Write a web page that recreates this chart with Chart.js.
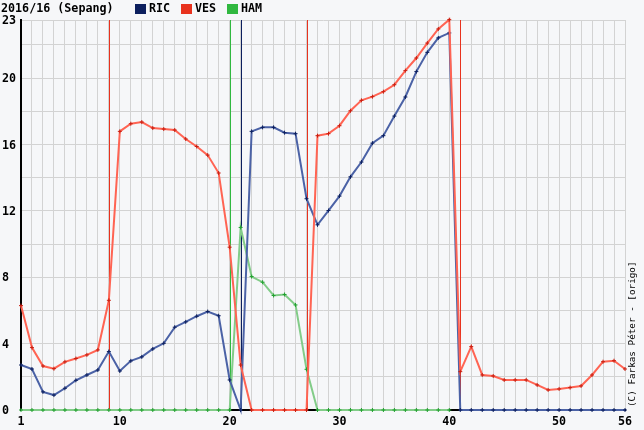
<!DOCTYPE html>
<html>
<head>
<meta charset="utf-8">
<script src="https://cdn.jsdelivr.net/npm/chart.js@4/dist/chart.umd.min.js"></script>
<style>
  html, body { margin: 0; padding: 0; background: #f6f7f9; }
  #wrap { width: 644px; height: 430px; }
</style>
</head>
<body>
<div id="wrap"><canvas id="gapChart" width="644" height="430"></canvas></div>
<script>
// ── DATA ─────────────────────────────────────────────
// gap to the leader (seconds), lap by lap
const laps = [1, 2, 3, 4, 5, 6, 7, 8, 9, 10, 11, 12, 13, 14, 15, 16, 17, 18, 19, 20,
              21, 22, 23, 24, 25, 26, 27, 28, 29, 30, 31, 32, 33, 34, 35, 36, 37, 38, 39, 40,
              41, 42, 43, 44, 45, 46, 47, 48, 49, 50, 51, 52, 53, 54, 55, 56];

const ricGap = [2.71, 2.47, 1.09, 0.90, 1.31, 1.79, 2.11, 2.41, 3.52, 2.35,
                2.96, 3.20, 3.68, 4.02, 4.99, 5.31, 5.65, 5.93, 5.68, 1.81,
                0, 16.79, 17.03, 17.03, 16.71, 16.65, 12.73, 11.16, 12.02, 12.89,
                14.05, 14.94, 16.08, 16.53, 17.71, 18.86, 20.39, 21.55, 22.42, 22.72,
                0, 0, 0, 0, 0, 0, 0, 0, 0, 0, 0, 0, 0, 0, 0, 0];

const vesGap = [6.29, 3.76, 2.65, 2.49, 2.90, 3.10, 3.32, 3.62, 6.61, 16.79,
                17.25, 17.35, 16.99, 16.93, 16.87, 16.33, 15.88, 15.36, 14.28, 9.81,
                2.71, 0, 0, 0, 0, 0, 0, 16.53, 16.65, 17.13,
                18.03, 18.66, 18.88, 19.18, 19.60, 20.45, 21.21, 22.11, 22.96, 23.52,
                2.31, 3.82, 2.11, 2.05, 1.81, 1.81, 1.81, 1.51, 1.21, 1.27,
                1.35, 1.45, 2.11, 2.91, 2.97, 2.47];

const hamGap = [0, 0, 0, 0, 0, 0, 0, 0, 0, 0, 0, 0, 0, 0, 0, 0, 0, 0, 0, 0,
                11.00, 8.04, 7.70, 6.90, 6.96, 6.33, 2.45, 0, 0, 0,
                0, 0, 0, 0, 0, 0, 0, 0, 0, 0,
                null, null, null, null, null, null, null, null, null, null,
                null, null, null, null, null, null];

// pit stop laps (vertical lines)
const ricPits = [21];
const vesPits = [9, 27, 41];
const hamPits = [20];

// axis ticks
const xLabels = [1, 10, 20, 30, 40, 50, 56];
const yLabels = [0, 4, 8, 12, 16, 20];
const yGrid   = [0, 2, 4, 6, 8, 10, 12, 14, 16, 18, 20, 22];
const yMax    = 23.5;
const yTopLabel = '23';

const chartTitle = '2016/16 (Sepang)';
const credit = '(C) Farkas Péter - [origo]';

// driver colours: key (legend / pit line), line, marker
const drivers = [
  { name: 'RIC', values: ricGap, pits: ricPits, key: '#0c1f5e', line: '#4b62a6', mark: '#0c1f5e', order: 1 },
  { name: 'VES', values: vesGap, pits: vesPits, key: '#e8321e', line: '#ff6453', mark: '#c81e10', order: 0 },
  { name: 'HAM', values: hamGap, pits: hamPits, key: '#30b840', line: '#82cc88', mark: '#22a030', order: 2 }
];


// ── HELPERS ──────────────────────────────────────────
function toPoints(values) {
  return laps.map((lap, i) => ({ x: lap, y: values[i] }));
}

const boldFont = 'bold 11.7px "DejaVu Sans Mono"';


// ── PLUGIN: pit lines, labels, legend ────────────────
const decorations = {
  id: 'decorations',

  beforeDatasetsDraw(chart) {
    const ctx = chart.ctx;
    const area = chart.chartArea;
    const xs = chart.scales.x;
    ctx.save();
    drivers.forEach(d => {
      ctx.fillStyle = d.key;
      d.pits.forEach(lap => {
        const px = Math.round(xs.getPixelForValue(lap));
        ctx.fillRect(px, area.top, 1, area.bottom - area.top);
      });
    });
    ctx.restore();
  },

  afterDraw(chart) {
    const ctx = chart.ctx;
    const area = chart.chartArea;
    const xs = chart.scales.x;
    const ys = chart.scales.y;
    ctx.save();
    ctx.fillStyle = '#000';
    ctx.font = boldFont;

    // y labels (left aligned at the canvas edge)
    ctx.textAlign = 'left';
    ctx.textBaseline = 'middle';
    yLabels.forEach(v => ctx.fillText(String(v), 2, ys.getPixelForValue(v) + 1));
    ctx.fillText(yTopLabel, 2, area.top + 1);

    // x labels
    ctx.textAlign = 'center';
    xLabels.forEach(v => ctx.fillText(String(v), xs.getPixelForValue(v), area.bottom + 12));

    // title + legend
    ctx.textAlign = 'left';
    ctx.fillText(chartTitle, 1, 9);
    let lx = 135;
    drivers.forEach(d => {
      ctx.fillStyle = d.key;
      ctx.fillRect(lx, 4, 11, 10);
      ctx.fillStyle = '#000';
      ctx.fillText(d.name, lx + 14, 9);
      lx += 46;
    });

    // credit, rotated on the right
    ctx.font = '9.3px "DejaVu Sans Mono"';
    ctx.translate(633, 407);
    ctx.rotate(-Math.PI / 2);
    ctx.textAlign = 'left';
    ctx.fillText(credit, 0, 0);
    ctx.restore();
  }
};


// ── CHART ────────────────────────────────────────────
const ctx = document.getElementById('gapChart').getContext('2d');

new Chart(ctx, {
  type: 'line',
  data: {
    datasets: drivers.map(d => ({
      label: d.name,
      data: toPoints(d.values),
      order: d.order,
      clip: false,
      borderColor: d.line,
      borderWidth: 2,
      pointStyle: 'cross',
      pointRadius: 2,
      pointBorderWidth: 1,
      pointBorderColor: d.mark,
      pointBackgroundColor: d.mark,
      tension: 0,
      spanGaps: false
    }))
  },
  options: {
    responsive: false,
    animation: false,
    devicePixelRatio: 1,
    layout: { padding: { left: 21, top: 20, right: 19, bottom: 20 } },
    plugins: {
      legend: { display: false },
      tooltip: { enabled: false }
    },
    scales: {
      x: {
        type: 'linear',
        min: 1,
        max: 56,
        afterBuildTicks: axis => { axis.ticks = laps.map(v => ({ value: v })); },
        ticks: { display: false },
        grid: { color: '#d3d3d3', lineWidth: 1, drawTicks: false },
        border: { color: '#000', width: 2 }
      },
      y: {
        min: 0,
        max: yMax,
        afterBuildTicks: axis => { axis.ticks = yGrid.concat([yMax]).map(v => ({ value: v })); },
        ticks: { display: false },
        grid: { color: '#d3d3d3', lineWidth: 1, drawTicks: false },
        border: { color: '#000', width: 2 }
      }
    }
  },
  plugins: [decorations]
});
</script>
</body>
</html>
